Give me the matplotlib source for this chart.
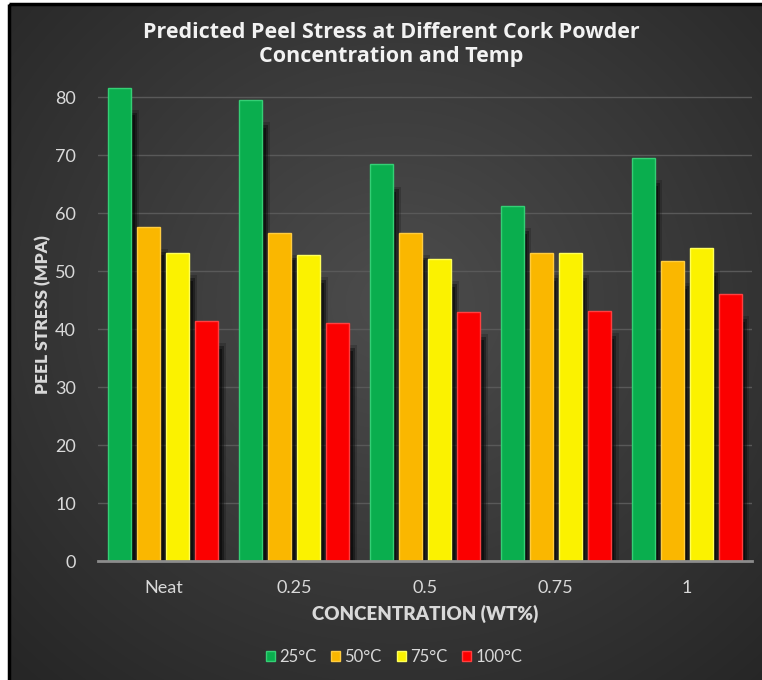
import numpy as np
import matplotlib
matplotlib.use("Agg")
import matplotlib.pyplot as plt
from matplotlib import patheffects as pe
from matplotlib.patches import Rectangle

# Data
categories = ["Neat", "0.25", "0.5", "0.75", "1"]
series_names = ["25°C", "50°C", "75°C", "100°C"]
stress_25 = [81.6, 79.5, 68.4, 61.2, 69.5]
stress_50 = [57.6, 56.6, 56.6, 53.1, 51.7]
stress_75 = [53.1, 52.8, 52.1, 53.1, 54.0]
stress_100 = [41.4, 41.0, 42.9, 43.1, 46.0]
y_ticks = [0, 10, 20, 30, 40, 50, 60, 70, 80]

series = [stress_25, stress_50, stress_75, stress_100]
face_colors = ["#0aae4e", "#fab700", "#fbf200", "#fb0000"]
edge_colors = ["#35cf75", "#ffcc40", "#ffff5a", "#ff4040"]

plt.rcParams["font.family"] = ["Lato", "DejaVu Sans"]

W, H = 762, 680
fig = plt.figure(figsize=(W / 100, H / 100), dpi=100)
fig.patch.set_facecolor("white")

# Dark radial-gradient panel behind the chart
bg = fig.add_axes([0, 0, 1, 1], zorder=-10)
bg.set_xlim(0, W)
bg.set_ylim(H, 0)
bg.axis("off")
yy, xx = np.mgrid[0:H, 0:W]
r = np.sqrt(((xx - 390) / 520.0) ** 2 + ((yy - 300) / 480.0) ** 2)
shade = np.clip(0.30 - 0.14 * r, 0.15, 0.30)
img = np.dstack([shade, shade, shade])
bg.imshow(img, extent=(11, W, H, 5), aspect="auto", interpolation="bilinear")
bg.add_patch(Rectangle((9, 4), W + 20, H + 20, facecolor="none", edgecolor="black", linewidth=2.5))

ax = fig.add_axes([98 / W, (H - 561) / H, 654 / W, 493 / H])
ax.set_facecolor("none")
ax.set_xlim(-0.5, len(categories) - 0.5)
ax.set_ylim(0, 85)

x = np.arange(len(categories))
step = 0.222
width = 0.176
for i, (vals, fc, ec) in enumerate(zip(series, face_colors, edge_colors)):
    pos = x + (i - 1.5) * step
    bars = ax.bar(pos, vals, width=width, color=fc, edgecolor=ec, linewidth=1.0,
                  zorder=3, label=series_names[i])
    for b in bars:
        b.set_path_effects([
            pe.SimplePatchShadow(offset=(5.5, -16), shadow_rgbFace="black", alpha=0.18),
            pe.SimplePatchShadow(offset=(4.0, -18), shadow_rgbFace="black", alpha=0.35),
            pe.SimplePatchShadow(offset=(2.5, -20), shadow_rgbFace="black", alpha=0.45),
            pe.Normal(),
        ])

ax.set_yticks(y_ticks)
ax.set_xticks(x)
ax.set_xticklabels(categories)
ax.yaxis.grid(True, color="#595959", linewidth=1.0, zorder=0)
ax.set_axisbelow(True)
for s in ["top", "right", "left"]:
    ax.spines[s].set_visible(False)
ax.spines["bottom"].set_color("#8c8c8c")
ax.spines["bottom"].set_linewidth(2.0)
ax.spines["bottom"].set_zorder(4)
ax.tick_params(axis="both", length=0, colors="#d9d9d9", labelsize=13)
ax.tick_params(axis="y", pad=16)
ax.tick_params(axis="x", pad=14)

ax.set_xlabel("CONCENTRATION (WT%)", color="#d9d9d9", fontsize=13.5,
              fontweight="heavy", labelpad=6)
ax.set_ylabel("PEEL STRESS (MPA)", color="#d9d9d9", fontsize=12.5,
              fontweight="heavy")
ax.yaxis.set_label_coords(-0.072, 0.5)

fig.text(0.513, 0.935, "Predicted Peel Stress at Different Cork Powder\nConcentration and Temp",
         ha="center", va="center", color="#f2f2f2", fontsize=15.5,
         fontweight="bold", family=["Open Sans", "DejaVu Sans"], linespacing=1.2)

leg = ax.legend(loc="center", bbox_to_anchor=(394 / W, (H - 657) / H),
                bbox_transform=fig.transFigure, ncol=4, frameon=False,
                fontsize=12, labelcolor="#d9d9d9", handlelength=0.55, handleheight=0.55,
                handletextpad=0.25, columnspacing=0.9)
for h in leg.legend_handles:
    h.set_path_effects([])

fig.savefig("out.png", dpi=100)
